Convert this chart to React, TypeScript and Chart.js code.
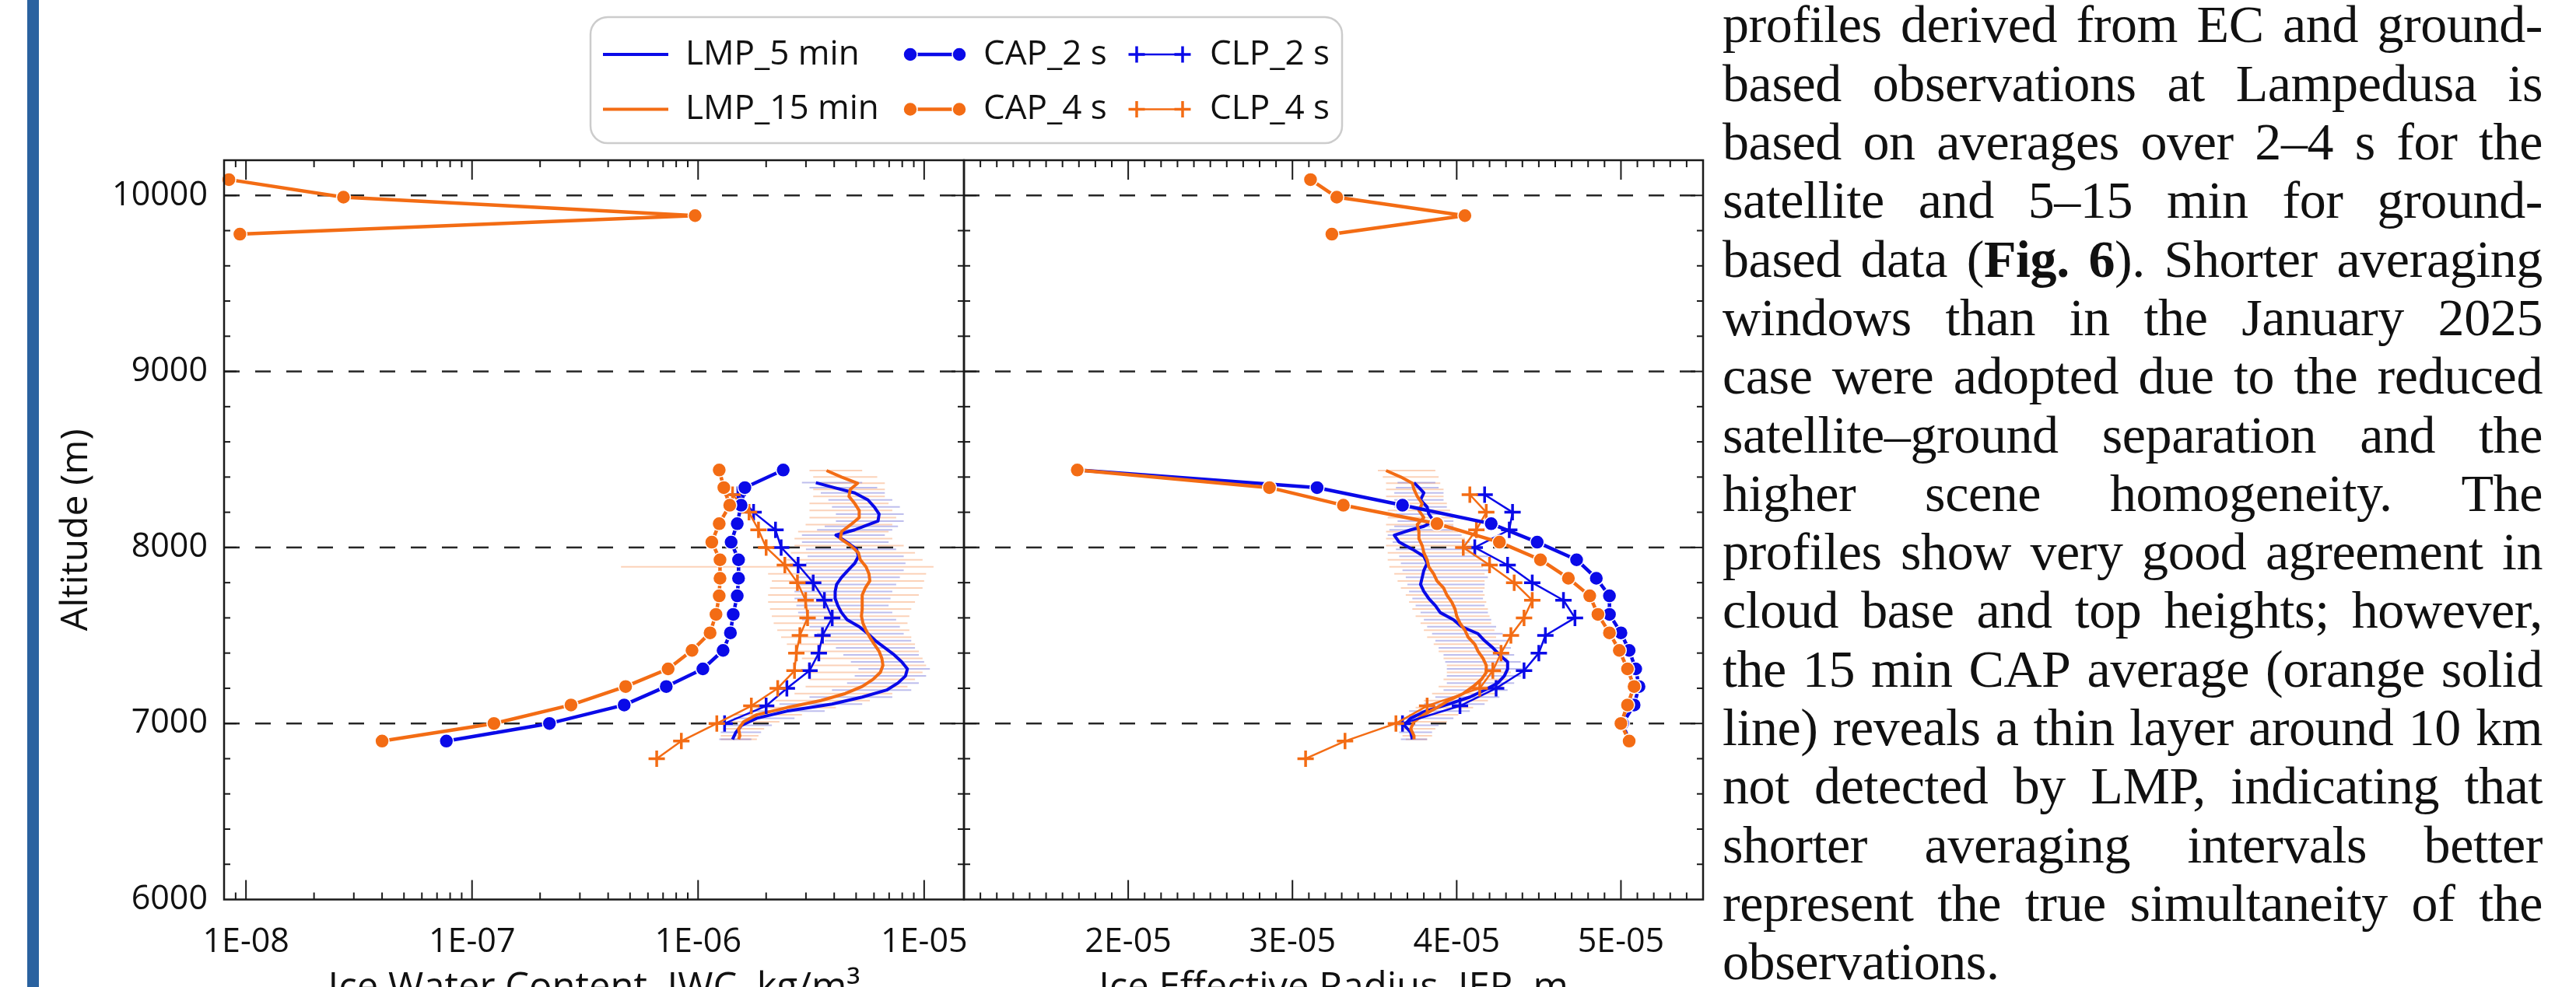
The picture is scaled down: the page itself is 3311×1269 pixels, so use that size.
import React, { useEffect, useRef } from 'react';
import { Chart, registerables } from 'chart.js';

Chart.register(...registerables);

const FONT = "'Open Sans', 'Noto Sans', 'DejaVu Sans', sans-serif";
Chart.defaults.font.family = FONT;
Chart.defaults.color = '#111';

const BLUE = '#0a0ae8';
const ORANGE = '#f36c14';
const BLUE_ERR = 'rgba(110, 110, 215, 0.45)';
const ORANGE_ERR = 'rgba(247, 165, 115, 0.5)';

// ---------- axis ticks ----------
const altTicks = [6000, 7000, 8000, 9000, 10000];
const gridAlts = [7000, 8000, 9000, 10000];
const iwcTicks = [1e-8, 1e-7, 1e-6, 1e-5];
const ierTicks = [2e-5, 3e-5, 4e-5, 5e-5];

// ---------- LMP (ground-based) profiles ----------
// IWC in 1e-6 kg/m3, IER in 1e-5 m
const lmp5Alt = [6910, 6950, 6990, 7030, 7070, 7110, 7150, 7190, 7230, 7270, 7310, 7350, 7390, 7430, 7470, 7510, 7550, 7590, 7630, 7670, 7710, 7750, 7790, 7830, 7870, 7910, 7950, 7990, 8030, 8070, 8100, 8120, 8150, 8190, 8230, 8270, 8310, 8340, 8368];
const lmp5Iwc = [1.42, 1.47, 1.56, 1.82, 2.47, 3.91, 5.32, 6.83, 7.66, 8.27, 8.43, 7.96, 7.37, 6.70, 6.09, 5.64, 5.16, 4.56, 4.31, 4.15, 4.04, 4.04, 4.10, 4.31, 4.60, 4.93, 5.12, 5.02, 4.56, 4.07, 4.93, 5.42, 6.25, 6.32, 6.02, 5.64, 4.93, 3.99, 3.32];
const lmp5IwcLo = [1.24, 1.26, 1.31, 1.44, 1.68, 2.29, 3.11, 3.91, 4.56, 4.93, 5.12, 4.74, 4.39, 4.07, 3.63, 3.36, 3.11, 2.88, 2.77, 2.72, 2.67, 2.67, 2.72, 2.77, 2.88, 3.00, 3.05, 3.00, 2.88, 2.88, 3.36, 3.63, 4.07, 4.07, 3.91, 3.77, 3.49, 3.11, 2.88];
const lmp5IwcHi = [1.72, 1.90, 2.12, 2.67, 3.63, 5.32, 7.23, 8.77, 9.47, 10.2, 10.6, 10.0, 9.47, 9.11, 8.77, 8.12, 7.81, 7.52, 7.23, 6.96, 7.10, 7.23, 7.52, 7.81, 8.12, 8.27, 8.12, 7.52, 6.96, 6.70, 7.23, 7.66, 8.12, 8.12, 7.81, 7.23, 6.70, 6.20, 5.32];
const lmp5Ier = [3.73, 3.72, 3.68, 3.72, 3.81, 3.95, 4.08, 4.17, 4.25, 4.29, 4.31, 4.31, 4.26, 4.22, 4.17, 4.13, 4.03, 3.98, 3.90, 3.87, 3.83, 3.80, 3.78, 3.79, 3.80, 3.82, 3.80, 3.73, 3.65, 3.62, 3.72, 3.80, 3.86, 3.83, 3.82, 3.78, 3.80, 3.77, 3.74];
const lmp5IerLo = [3.66, 3.65, 3.64, 3.66, 3.71, 3.80, 3.87, 3.92, 3.94, 3.94, 3.94, 3.93, 3.92, 3.89, 3.87, 3.85, 3.82, 3.80, 3.78, 3.75, 3.73, 3.71, 3.70, 3.69, 3.67, 3.66, 3.65, 3.63, 3.61, 3.58, 3.59, 3.62, 3.64, 3.63, 3.62, 3.62, 3.62, 3.63, 3.64];
const lmp5IerHi = [3.82, 3.85, 3.89, 3.98, 4.08, 4.17, 4.26, 4.31, 4.35, 4.39, 4.40, 4.39, 4.35, 4.33, 4.31, 4.28, 4.24, 4.21, 4.19, 4.17, 4.16, 4.16, 4.17, 4.19, 4.20, 4.21, 4.19, 4.15, 4.08, 4.03, 3.98, 3.98, 3.98, 3.96, 3.94, 3.92, 3.92, 3.89, 3.87];

const lmp15Alt = [6910, 6930, 6970, 7010, 7050, 7090, 7130, 7170, 7210, 7250, 7290, 7330, 7370, 7410, 7450, 7490, 7530, 7570, 7610, 7650, 7690, 7730, 7770, 7810, 7850, 7890, 7930, 7970, 8010, 8050, 8090, 8130, 8170, 8210, 8250, 8290, 8330, 8365, 8400, 8437];
const lmp15Iwc = [1.51, 1.53, 1.51, 1.59, 1.82, 2.47, 3.49, 4.48, 5.32, 5.93, 6.40, 6.57, 6.50, 6.32, 6.02, 5.75, 5.53, 5.36, 5.28, 5.32, 5.32, 5.32, 5.49, 5.75, 5.70, 5.53, 5.22, 5.12, 4.74, 4.26, 4.31, 4.74, 5.16, 5.16, 4.93, 4.65, 4.71, 5.08, 4.31, 3.70];
const lmp15IwcLo = [1.26, 1.26, 1.29, 1.34, 1.44, 1.75, 2.20, 2.67, 2.99, 3.11, 3.11, 3.05, 2.88, 2.67, 2.47, 2.33, 2.24, 2.16, 2.12, 2.08, 2.04, 2.04, 2.08, 2.12, 2.04, 0.456, 2.47, 2.57, 2.67, 2.67, 2.77, 2.99, 3.11, 3.11, 3.11, 3.23, 3.23, 3.36, 3.23, 3.11];
const lmp15IwcHi = [1.82, 1.85, 1.96, 2.29, 2.88, 4.07, 5.75, 7.23, 8.44, 9.11, 9.84, 10.2, 9.84, 9.47, 9.11, 8.77, 8.60, 8.44, 8.60, 8.77, 9.11, 9.47, 9.84, 10.0, 10.2, 11.0, 9.84, 9.11, 8.12, 7.23, 6.96, 7.23, 7.52, 7.23, 6.96, 6.70, 6.70, 6.70, 6.20, 5.32];
const lmp15Ier = [3.74, 3.74, 3.72, 3.74, 3.80, 3.88, 3.95, 4.04, 4.10, 4.15, 4.18, 4.18, 4.16, 4.13, 4.11, 4.07, 4.05, 4.02, 4.00, 3.99, 3.97, 3.94, 3.92, 3.88, 3.86, 3.83, 3.82, 3.80, 3.79, 3.77, 3.77, 3.76, 3.80, 3.77, 3.79, 3.76, 3.74, 3.73, 3.66, 3.57];
const lmp15IerLo = [3.69, 3.67, 3.66, 3.67, 3.71, 3.75, 3.80, 3.85, 3.89, 3.92, 3.94, 3.94, 3.92, 3.89, 3.86, 3.82, 3.80, 3.78, 3.75, 3.73, 3.71, 3.69, 3.66, 3.64, 3.62, 3.59, 3.58, 3.58, 3.57, 3.57, 3.57, 3.57, 3.58, 3.58, 3.58, 3.57, 3.57, 3.57, 3.55, 3.52];
const lmp15IerHi = [3.82, 3.85, 3.87, 3.94, 4.01, 4.10, 4.19, 4.24, 4.28, 4.31, 4.33, 4.32, 4.31, 4.28, 4.26, 4.24, 4.23, 4.21, 4.20, 4.19, 4.18, 4.17, 4.17, 4.17, 4.17, 4.16, 4.15, 4.12, 4.10, 4.05, 4.01, 3.98, 3.98, 3.96, 3.94, 3.92, 3.92, 3.90, 3.89, 3.87];

// ---------- CAP (satellite) profiles ----------
const capAlt = [8440, 8340, 8240, 8135, 8030, 7930, 7825, 7725, 7620, 7515, 7415, 7310, 7210, 7105, 7000, 6900];
const cap2Iwc = [2.38, 1.61, 1.55, 1.49, 1.40, 1.51, 1.51, 1.49, 1.43, 1.39, 1.29, 1.05, 0.723, 0.471, 0.220, 0.077];
const cap4Iwc = [1.24, 1.30, 1.38, 1.24, 1.15, 1.25, 1.25, 1.24, 1.20, 1.13, 0.94, 0.737, 0.478, 0.274, 0.125, 0.040];
const cap2Ier = [1.69, 3.15, 3.67, 4.21, 4.49, 4.73, 4.85, 4.93, 4.93, 5.00, 5.05, 5.09, 5.11, 5.08, 5.01, 5.05];
const cap4Ier = [1.69, 2.86, 3.31, 3.88, 4.26, 4.51, 4.68, 4.81, 4.86, 4.93, 4.99, 5.04, 5.08, 5.04, 5.00, 5.05];
const cap4HighAlt = [10090, 9990, 9885, 9780];
const cap4HighIwc = [0.0084, 0.027, 0.97, 0.0094];
const cap4HighIer = [3.11, 3.27, 4.05, 3.24];

// ---------- CLP (satellite) profiles ----------
const clp2Alt = [8300, 8200, 8100, 8000, 7900, 7800, 7700, 7600, 7500, 7400, 7300, 7200, 7100, 7000];
const clp4Alt = [8300, 8200, 8100, 8000, 7900, 7800, 7700, 7600, 7500, 7400, 7300, 7200, 7100, 7000, 6900, 6800];
const clp2Iwc = [1.50, 1.76, 2.20, 2.33, 2.77, 3.23, 3.62, 3.92, 3.55, 3.42, 3.11, 2.47, 2.00, 1.31];
const clp4Iwc = [1.42, 1.68, 1.85, 2.00, 2.42, 2.75, 2.99, 3.05, 2.82, 2.72, 2.67, 2.25, 1.72, 1.21, 0.843, 0.656];
const clp2Ier = [4.17, 4.34, 4.32, 4.11, 4.31, 4.46, 4.65, 4.72, 4.54, 4.50, 4.41, 4.24, 4.02, 3.67];
const clp4Ier = [4.08, 4.18, 4.12, 4.04, 4.20, 4.35, 4.46, 4.41, 4.33, 4.27, 4.22, 4.14, 3.82, 3.63, 3.32, 3.08];

const legendItems = ['LMP_5 min', 'CAP_2 s', 'CLP_2 s', 'LMP_15 min', 'CAP_4 s', 'CLP_4 s'];

const textLines = [
  'profiles derived from EC and ground-',
  'based observations at Lampedusa is',
  'based on averages over 2–4 s for the',
  'satellite and 5–15 min for ground-',
  'based data (*Fig.* *6*). Shorter averaging',
  'windows than in the January 2025',
  'case were adopted due to the reduced',
  'satellite–ground separation and the',
  'higher scene homogeneity. The',
  'profiles show very good agreement in',
  'cloud base and top heights; however,',
  'the 15 min CAP average (orange solid',
  'line) reveals a thin layer around 10 km',
  'not detected by LMP, indicating that',
  'shorter averaging intervals better',
  'represent the true simultaneity of the',
  'observations.',
];

const IWC = 1e-6;
const IER = 1e-5;

function pts(xs: number[], ys: number[], k: number) {
  return xs.map((v, i) => ({ x: v * k, y: ys[i] }));
}
function capDs(label: string, color: string, xs: number[], ys: number[], k: number) {
  return {
    label, data: pts(xs, ys, k), showLine: true, borderColor: color, backgroundColor: color,
    borderWidth: 4.5, borderJoinStyle: 'round', pointRadius: 9, pointStyle: 'circle',
    pointBackgroundColor: color, pointBorderColor: '#ffffff', pointBorderWidth: 1.5, clip: false,
  };
}
function clpDs(label: string, color: string, xs: number[], ys: number[], k: number) {
  return {
    label, data: pts(xs, ys, k), showLine: true, borderColor: color, backgroundColor: color,
    borderWidth: 2.5, borderJoinStyle: 'round', pointRadius: 10.5, pointStyle: 'cross',
    pointBorderColor: color, pointBorderWidth: 3.5, clip: false,
  };
}
function lmpDs(label: string, color: string, errColor: string, xs: number[], lo: number[], hi: number[], ys: number[], k: number) {
  return {
    label, data: pts(xs, ys, k), showLine: true, borderColor: color, backgroundColor: color,
    borderWidth: 4, borderJoinStyle: 'round', pointRadius: 0, clip: false,
    errLo: lo.map((v) => v * k), errHi: hi.map((v) => v * k), errColor,
  };
}

function fmtE(v: number) {
  const e = Math.floor(Math.log10(v) + 1e-6);
  const m = Math.round(v / Math.pow(10, e));
  const ex = e < 0 ? '-' + String(-e).padStart(2, '0') : '+' + String(e).padStart(2, '0');
  return `${m}E${ex}`;
}

function makeFrame(xMajor: number[], xMinor: number[]) {
  return {
    id: 'panelFrame',
    beforeDatasetsDraw(chart: any) {
      const { ctx, chartArea: a, scales } = chart;
      const xs = scales.x;
      const ys = scales.y;
      ctx.save();
      ctx.strokeStyle = '#262626';
      ctx.lineWidth = 2.5;
      ctx.setLineDash([20, 20]);
      for (const v of gridAlts) {
        const py = ys.getPixelForValue(v);
        ctx.beginPath();
        ctx.moveTo(a.left, py);
        ctx.lineTo(a.right, py);
        ctx.stroke();
      }
      ctx.setLineDash([]);
      ctx.lineWidth = 2;
      for (const ds of chart.data.datasets) {
        if (!ds.errLo) continue;
        ctx.strokeStyle = ds.errColor;
        ds.data.forEach((p: any, i: number) => {
          const py = ys.getPixelForValue(p.y);
          ctx.beginPath();
          ctx.moveTo(xs.getPixelForValue(ds.errLo[i]), py);
          ctx.lineTo(xs.getPixelForValue(ds.errHi[i]), py);
          ctx.stroke();
        });
      }
      ctx.restore();
    },
    afterDatasetsDraw(chart: any) {
      const { ctx, chartArea: a, scales } = chart;
      const xs = scales.x;
      const ys = scales.y;
      ctx.save();
      ctx.strokeStyle = '#1a1a1a';
      ctx.lineWidth = 2;
      const seg = (x1: number, y1: number, x2: number, y2: number) => {
        ctx.beginPath();
        ctx.moveTo(x1, y1);
        ctx.lineTo(x2, y2);
        ctx.stroke();
      };
      const xTick = (v: number, len: number) => {
        const px = xs.getPixelForValue(v);
        if (px <= a.left + 2 || px >= a.right - 2) return;
        seg(px, a.top, px, a.top + len);
        seg(px, a.bottom, px, a.bottom - len);
      };
      xMajor.forEach((v) => xTick(v, 25));
      xMinor.forEach((v) => xTick(v, 9));
      for (let v = 6000; v <= 10200; v += 200) {
        const py = ys.getPixelForValue(v);
        if (py >= a.bottom - 2 || py <= a.top + 2) continue;
        const len = v % 1000 === 0 ? 16 : 8;
        seg(a.left, py, a.left + len, py);
        seg(a.right, py, a.right - len, py);
      }
      ctx.lineWidth = 2.5;
      ctx.strokeRect(a.left, a.top, a.right - a.left, a.bottom - a.top);
      ctx.restore();
    },
  };
}

const legendPlugin = {
  id: 'boxLegend',
  afterDraw(chart: any) {
    const ctx = chart.ctx;
    ctx.save();
    ctx.beginPath();
    ctx.roundRect(759, 22, 966, 162, 22);
    ctx.fillStyle = 'rgba(255,255,255,0.92)';
    ctx.fill();
    ctx.strokeStyle = '#cccccc';
    ctx.lineWidth = 2.5;
    ctx.stroke();
    const cols = [[775, 859, 881], [1170, 1233, 1264], [1461, 1520, 1555]];
    const rows = [70, 140.5];
    legendItems.forEach((label, i) => {
      const ds = chart.data.datasets.find((d: any) => d.label === label);
      if (!ds) return;
      const [x0, x1, tx] = cols[i % 3];
      const y = rows[Math.floor(i / 3)];
      ctx.strokeStyle = ds.borderColor;
      ctx.lineWidth = ds.borderWidth;
      ctx.beginPath();
      ctx.moveTo(x0, y);
      ctx.lineTo(x1, y);
      ctx.stroke();
      if (ds.pointRadius > 0) {
        for (const px of [x0, x1]) {
          const r = ds.pointRadius;
          if (ds.pointStyle === 'cross') {
            ctx.strokeStyle = ds.pointBorderColor;
            ctx.lineWidth = ds.pointBorderWidth;
            ctx.beginPath();
            ctx.moveTo(px - r, y); ctx.lineTo(px + r, y);
            ctx.moveTo(px, y - r); ctx.lineTo(px, y + r);
            ctx.stroke();
          } else {
            ctx.beginPath();
            ctx.arc(px, y, r, 0, Math.PI * 2);
            ctx.fillStyle = ds.pointBackgroundColor;
            ctx.fill();
            ctx.strokeStyle = ds.pointBorderColor;
            ctx.lineWidth = ds.pointBorderWidth;
            ctx.stroke();
          }
        }
      }
      ctx.fillStyle = '#111';
      ctx.font = `44px ${FONT}`;
      ctx.textAlign = 'left';
      ctx.textBaseline = 'middle';
      ctx.fillText(label, tx, y);
    });
    ctx.restore();
  },
};

const tickFont = { family: FONT, size: 43 };
const titleFont = { family: FONT, size: 49 };

function xAxis(type: string, min: number, max: number, ticks: number[], title: string) {
  return {
    type, position: 'bottom', min, max,
    afterBuildTicks: (s: any) => { s.ticks = ticks.map((v) => ({ value: v })); },
    afterFit: (s: any) => { s.height = 163.5; },
    grid: { display: false, drawTicks: false },
    border: { display: false },
    ticks: { callback: (v: any) => fmtE(Number(v)), font: tickFont, color: '#111', padding: 29, maxRotation: 0, minRotation: 0, autoSkip: false },
    title: { display: true, text: title, font: titleFont, color: '#111', padding: { top: 0, bottom: 20 } },
  };
}

export default function App() {
  const c1 = useRef<HTMLCanvasElement>(null);
  const c2 = useRef<HTMLCanvasElement>(null);

  useEffect(() => {
    const iwcMinor: number[] = [];
    for (let e = -9; e <= -5; e++) for (let m = 2; m <= 9; m++) iwcMinor.push(m * Math.pow(10, e));
    const ierMajor: number[] = [];
    const ierMinor: number[] = [];
    for (let k = 10; k <= 55; k++) (k % 10 === 0 ? ierMajor : ierMinor).push(k * 1e-6);

    const leftSets = [
      capDs('CAP_4 s', ORANGE, cap4Iwc, capAlt, IWC),
      capDs('CAP_4 s (upper)', ORANGE, cap4HighIwc, cap4HighAlt, IWC),
      capDs('CAP_2 s', BLUE, cap2Iwc, capAlt, IWC),
      clpDs('CLP_4 s', ORANGE, clp4Iwc, clp4Alt, IWC),
      clpDs('CLP_2 s', BLUE, clp2Iwc, clp2Alt, IWC),
      lmpDs('LMP_15 min', ORANGE, ORANGE_ERR, lmp15Iwc, lmp15IwcLo, lmp15IwcHi, lmp15Alt, IWC),
      lmpDs('LMP_5 min', BLUE, BLUE_ERR, lmp5Iwc, lmp5IwcLo, lmp5IwcHi, lmp5Alt, IWC),
    ];
    const rightSets = [
      capDs('CAP_4 s', ORANGE, cap4Ier, capAlt, IER),
      capDs('CAP_4 s (upper)', ORANGE, cap4HighIer, cap4HighAlt, IER),
      capDs('CAP_2 s', BLUE, cap2Ier, capAlt, IER),
      clpDs('CLP_4 s', ORANGE, clp4Ier, clp4Alt, IER),
      clpDs('CLP_2 s', BLUE, clp2Ier, clp2Alt, IER),
      lmpDs('LMP_15 min', ORANGE, ORANGE_ERR, lmp15Ier, lmp15IerLo, lmp15IerHi, lmp15Alt, IER),
      lmpDs('LMP_5 min', BLUE, BLUE_ERR, lmp5Ier, lmp5IerLo, lmp5IerHi, lmp5Alt, IER),
    ];

    const base = {
      responsive: false, animation: false, devicePixelRatio: 1, events: [],
      plugins: { legend: { display: false }, tooltip: { enabled: false } },
    };

    const ch1 = new Chart(c1.current as HTMLCanvasElement, {
      type: 'scatter',
      data: { datasets: leftSets as any },
      options: {
        ...base,
        layout: { padding: { left: 0, top: 206, right: 501, bottom: 0 } },
        scales: {
          x: xAxis('logarithmic', 8e-9, 1.5e-5, iwcTicks, 'Ice Water Content, IWC, kg/m³'),
          y: {
            type: 'linear', position: 'left', min: 6000, max: 10200,
            afterBuildTicks: (s: any) => { s.ticks = altTicks.map((v) => ({ value: v })); },
            afterFit: (s: any) => { s.width = 288; },
            grid: { display: false, drawTicks: false },
            border: { display: false },
            ticks: { callback: (v: any) => String(v), font: tickFont, color: '#111', padding: 21 },
            title: { display: true, text: 'Altitude (m)', font: { family: FONT, size: 48 }, color: '#111', padding: { top: 70, bottom: 0 } },
          },
        },
      } as any,
      plugins: [makeFrame(iwcTicks, iwcMinor), legendPlugin] as any,
    });

    const ch2 = new Chart(c2.current as HTMLCanvasElement, {
      type: 'scatter',
      data: { datasets: rightSets as any },
      options: {
        ...base,
        layout: { padding: { left: 60, top: 206, right: 60, bottom: 0 } },
        scales: {
          x: xAxis('linear', 1e-5, 5.5e-5, ierTicks, 'Ice Effective Radius, IER, m'),
          y: { type: 'linear', min: 6000, max: 10200, display: false },
        },
      } as any,
      plugins: [makeFrame(ierMajor, ierMinor)] as any,
    });

    return () => {
      ch1.destroy();
      ch2.destroy();
    };
  }, []);

  const renderWord = (w: string, k: number) => {
    const parts = w.split('*');
    return (
      <span key={k} style={{ whiteSpace: 'pre' }}>
        {parts.map((p, j) => (j % 2 === 1 ? <b key={j}>{p}</b> : <React.Fragment key={j}>{p}</React.Fragment>))}
      </span>
    );
  };

  return (
    <div style={{ position: 'fixed', left: 0, top: 0, width: 3311, height: 1269, overflow: 'hidden', background: '#ffffff' }}>
      <div style={{ position: 'absolute', left: 35, top: 0, width: 15, height: 1269, background: '#2a62a0' }} />
      <canvas ref={c1} width={1740} height={1320} style={{ position: 'absolute', left: 0, top: 0, width: 1740, height: 1320 }} />
      <canvas ref={c2} width={1070} height={1320} style={{ position: 'absolute', left: 1179, top: 0, width: 1070, height: 1320 }} />
      {textLines.map((line, i) => {
        const last = i === textLines.length - 1;
        return (
          <div
            key={i}
            style={{
              position: 'absolute', left: 2214, top: -5.6 + 75.3 * i, width: 1054, height: 75.3,
              display: 'flex', justifyContent: last ? 'flex-start' : 'space-between',
              fontFamily: "'Liberation Serif', 'DejaVu Serif', serif", fontSize: 68, lineHeight: '75.3px',
              letterSpacing: '-0.4px', color: '#111', whiteSpace: 'pre',
            }}
          >
            {last ? renderWord(line, 0) : line.split(' ').map((w, k) => renderWord(w, k))}
          </div>
        );
      })}
    </div>
  );
}
